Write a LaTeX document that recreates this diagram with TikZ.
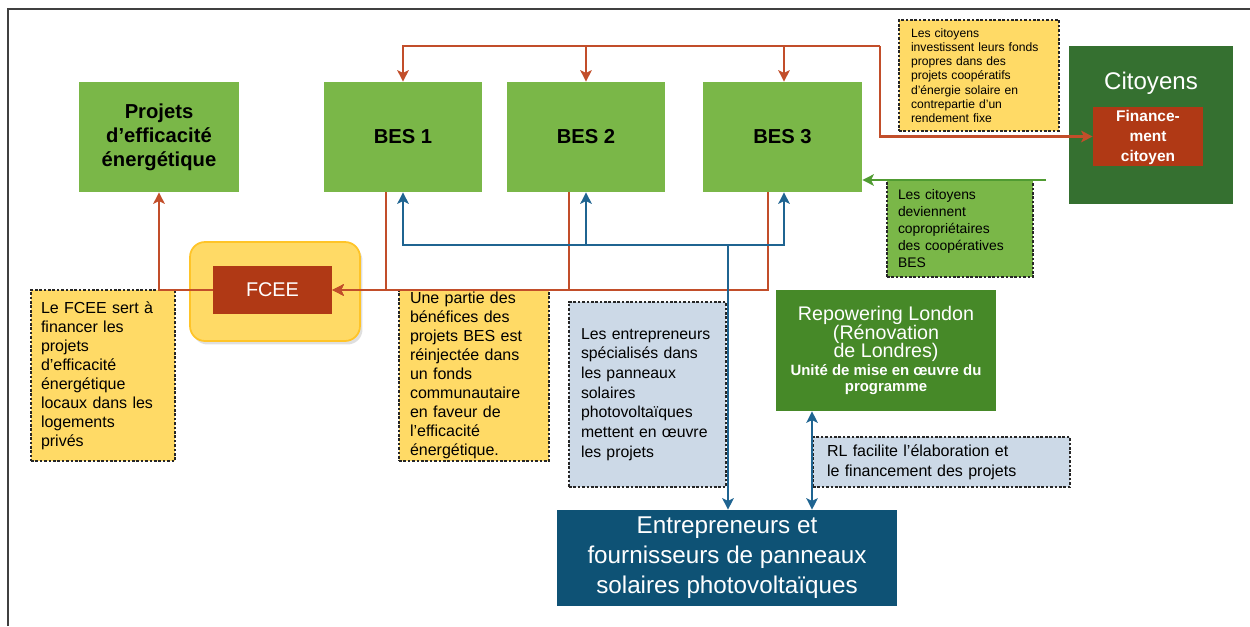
\documentclass[tikz,border=0pt]{standalone}
\usepackage{fontspec}
\setmainfont{Liberation Sans}
\usetikzlibrary{arrows,arrows.meta,shadows}
\definecolor{besgreen}{RGB}{122,183,72}
\definecolor{citgreen}{RGB}{53,112,48}
\definecolor{repgreen}{RGB}{70,137,40}
\definecolor{finred}{RGB}{176,57,21}
\definecolor{notey}{RGB}{255,218,102}
\definecolor{fceegold}{RGB}{255,196,40}
\definecolor{noteblue}{RGB}{204,217,231}
\definecolor{entblue}{RGB}{14,82,117}
\definecolor{linered}{RGB}{194,78,42}
\definecolor{lineblue}{RGB}{31,100,145}
\definecolor{linegreen}{RGB}{80,155,50}

\begin{document}
\begin{tikzpicture}[x=0.02cm,y=-0.02cm,>={Stealth[length=6.5pt,width=6.5pt,inset=1.5pt]},
	box/.style={rectangle,inner sep=0pt,align=center},
	note/.style={rectangle,draw=black!85,dash pattern=on 1.5pt off 1pt,line width=0.7pt,inner xsep=0pt,inner ysep=0pt,align=left},
	notefont/.style={font=\fontsize{9.1}{10.8}\selectfont},
	redln/.style={draw=linered,line width=1.1pt},
	blueln/.style={draw=lineblue,line width=1.1pt},
	greenln/.style={draw=linegreen,line width=1.1pt}]
%		\draw [step=50,thin,dotted,draw=black!60] (0,0) grid (1250,626);
		\useasboundingbox (0,0) rectangle (1250,626);
		
		\draw [line width=1.2pt,draw=black!75] (8,626) -- (8,9) -- (1250,9);
		
		\node[box,fill=besgreen,minimum width=3.2cm,minimum height=2.2cm,font=\bfseries\fontsize{11.5}{13.6}\selectfont] (proj) at (159,137) {Projets\\d'efficacité\\énergétique};
		\node[box,fill=besgreen,minimum width=3.16cm,minimum height=2.2cm,font=\bfseries\fontsize{11.5}{13.6}\selectfont] (bes1) at (403,137) {BES 1};
		\node[box,fill=besgreen,minimum width=3.16cm,minimum height=2.2cm,font=\bfseries\fontsize{11.5}{13.6}\selectfont] (bes2) at (586,137) {BES 2};
		\node[box,fill=besgreen,minimum width=3.18cm,minimum height=2.2cm,font=\bfseries\fontsize{11.5}{13.6}\selectfont] (bes3) at (782.5,137) {BES 3};
		
		\node[box,fill=citgreen,minimum width=3.28cm,minimum height=3.16cm] (cit) at (1151,125) {};
		\node[text=white,font=\fontsize{13.7}{15}\selectfont] (citlbl) at (1151,83) {Citoyens};
		\node[box,fill=finred,text=white,minimum width=2.2cm,minimum height=1.18cm,font=\bfseries\fontsize{8.8}{11}\selectfont] (fin) at (1148,136.5) {\strut Finance-\\[0.4pt]ment\\[0.4pt]citoyen};
		
		\node[note,fill=notey,text width=2.72cm,minimum width=3.2cm,minimum height=2.22cm,font=\fontsize{6.9}{8.1}\selectfont] (n0) at (979,75.5) {Les citoyens\\investissent leurs fonds\\propres dans des\\projets coopératifs\\d'énergie solaire en\\contrepartie d'un\\rendement fixe};
		\node[note,fill=besgreen,text width=2.48cm,minimum width=2.92cm,minimum height=1.94cm,font=\fontsize{7.9}{9.6}\selectfont] (n5) at (960,228.5) {Les citoyens\\deviennent\\copropriétaires\\des coopératives\\BES};
		
		\node[fill=notey,draw=fceegold,line width=1pt,rounded corners=0.3cm,minimum width=3.4cm,minimum height=1.98cm,drop shadow={opacity=0.25,shadow xshift=0.05cm,shadow yshift=-0.07cm}] (fceebox) at (275,291.5) {};
		\node[box,fill=finred,text=white,minimum width=2.38cm,minimum height=0.96cm,font=\fontsize{11.3}{13}\selectfont] (fcee) at (272.5,290) {FCEE};
		
		\node[note,notefont,fill=notey,text width=2.48cm,minimum width=2.88cm,minimum height=3.42cm] (n1) at (103,375.5) {Le FCEE sert à\\financer les\\projets\\d'efficacité\\énergétique\\locaux dans les\\logements\\privés};
		\node[note,notefont,fill=notey,text width=2.56cm,minimum width=3.0cm,minimum height=3.42cm] (n2) at (474,375.5) {Une partie des\\bénéfices des\\projets BES est\\réinjectée dans\\un fonds\\communautaire\\en faveur de\\l'efficacité\\énergétique.};
		\node[note,fill=noteblue,text width=2.66cm,minimum width=3.14cm,minimum height=3.7cm,font=\fontsize{9}{11.2}\selectfont] (n3) at (647.5,394.5) {Les entrepreneurs\\spécialisés dans\\les panneaux\\solaires\\photovoltaïques\\mettent en œuvre\\les projets};
		\node[note,fill=noteblue,text width=4.58cm,minimum width=5.14cm,minimum height=1.0cm,font=\fontsize{9.1}{11.3}\selectfont] (n4) at (941.5,462) {RL facilite l'élaboration et\\le financement des projets};
		
		\node[box,fill=repgreen,text=white,minimum width=4.4cm,minimum height=2.42cm] (rep) at (886,350.5) {\fontsize{11.2}{10.8}\selectfont Repowering London\\[-1.3pt]\fontsize{11.2}{10.8}\selectfont (Rénovation\\[-1.6pt]\fontsize{11.2}{10.8}\selectfont de Londres)\\[-1.8pt]\bfseries\fontsize{8.5}{9}\selectfont Unité de mise en œuvre du\\[-2.6pt]\bfseries\fontsize{8.5}{9}\selectfont programme};
		\node[box,fill=entblue,text=white,minimum width=6.8cm,minimum height=1.92cm,font=\fontsize{13.8}{17}\selectfont] (ent) at (727,558) {\raisebox{-2pt}{Entrepreneurs et}\\\raisebox{-2pt}{fournisseurs de panneaux}\\\raisebox{-2pt}{solaires photovoltaïques}};
		
		% citizens' funds
		\coordinate (rtop) at (880,46);
		\draw [redln,line width=1.6pt,->] (rtop) |- (fin.west);
		\draw [redln,->] (rtop) -| (bes1.north);
		\draw [redln,->] (rtop) -| (bes2.north);
		\draw [redln,->] (rtop) -| ([xshift=0.03cm]bes3.north);
		
		% part of the profits to the FCEE
		\draw [redln,->] ([xshift=-0.34cm]bes1.south) |- (fcee.east);
		\draw [redln,->] ([xshift=-0.34cm]bes2.south) |- (fcee.east);
		\draw [redln,->] ([xshift=-0.29cm]bes3.south) |- (fcee.east);
		\draw [redln,->] (fcee.west) -| (proj.south);
		
		% installers
		\coordinate (bhub) at (728,245);
		\draw [blueln,->] (bhub) -| (bes1.south);
		\draw [blueln,->] (bhub) -| (bes2.south);
		\draw [blueln,->] (bhub) -| ([xshift=0.03cm]bes3.south);
		\draw [blueln,line width=1.6pt,->] (bhub) -- (bhub |- ent.north);
		\coordinate (rl) at ([xshift=-1.48cm]rep.south);
		\draw [blueln,<->] (rl) -- (rl |- ent.north);
		
		\coordinate (gstart) at (1046,180);
		\draw [greenln,->] (gstart) -- (gstart -| bes3.east);
\end{tikzpicture}
\end{document}
